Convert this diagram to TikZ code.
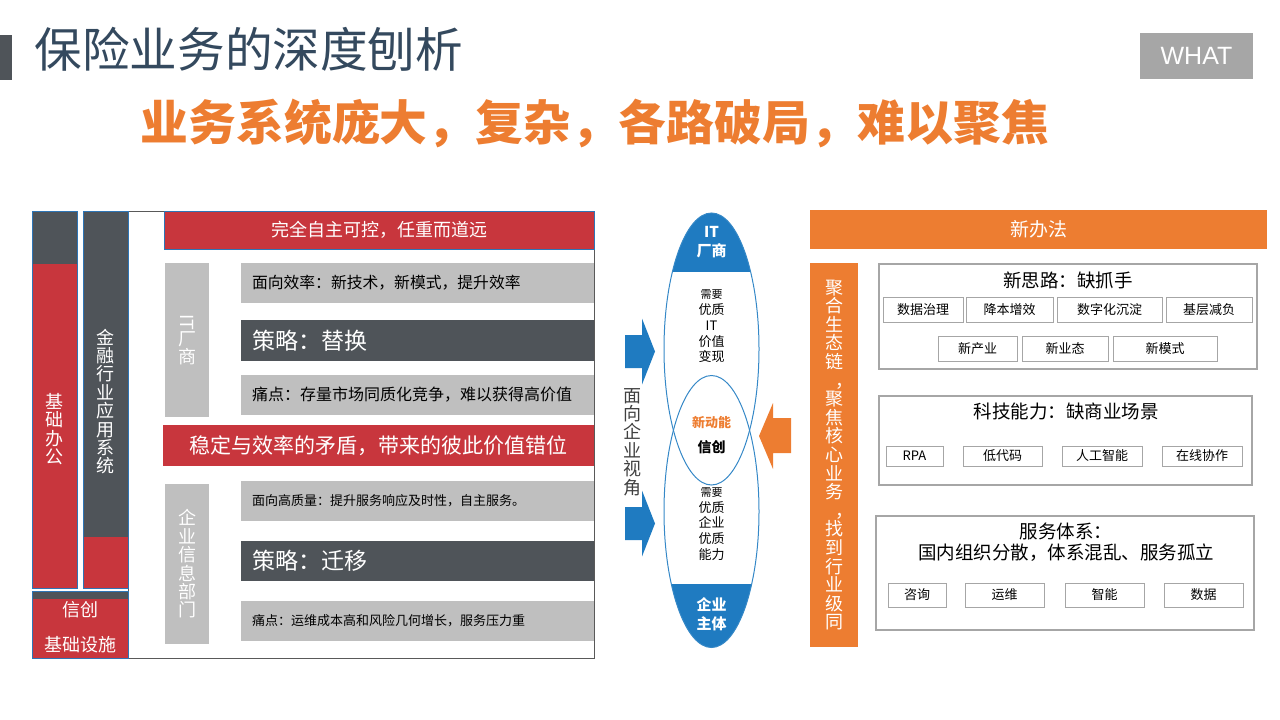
\documentclass[tikz,border=0pt]{standalone}
\usepackage{fontspec}
\setmainfont{Noto Sans CJK SC}
\newfontfamily\latinfont{Liberation Sans}
\usetikzlibrary{positioning}
\definecolor{slate}{HTML}{34495E}
\definecolor{ink}{HTML}{4F5459}
\definecolor{brick}{HTML}{C8363D}
\definecolor{silver}{HTML}{BFBFBF}
\definecolor{tangerine}{HTML}{ED7D31}
\definecolor{azure}{HTML}{1F7BC1}
\definecolor{edgeblue}{HTML}{2E75B6}
\definecolor{boxgray}{HTML}{A6A6A6}
\definecolor{framegray}{HTML}{595959}
\definecolor{textgray}{HTML}{404040}
\tikzset{
  panel/.style={anchor=north west,inner sep=0pt,outer sep=0pt},
  redbar/.style={panel,fill=brick,draw=edgeblue,line width=0.8pt,text=white},
  greybox/.style={panel,fill=silver,text=black,minimum width=353pt,
    text width=331pt,inner xsep=11pt,align=left,minimum height=40pt},
  inkbox/.style={greybox,fill=ink,text=white,font=\fontsize{23}{26}\selectfont},
  sidebox/.style={panel,fill=silver,text=white,minimum width=44pt,align=center,
    font=\fontsize{18}{18.4}\selectfont},
  vtext/.style={align=center,inner sep=0pt,text=white,font=\fontsize{18}{18.4}\selectfont},
  groupbox/.style={panel,draw=boxgray,line width=1.1pt},
  grouptitle/.style={align=center,inner sep=0pt,font=\fontsize{18.5}{21}\selectfont},
  tagbox/.style={draw=boxgray,line width=0.9pt,inner sep=0pt,font=\fontsize{13}{15}\selectfont},
  eltext/.style={align=center,inner sep=0pt,font=\fontsize{13}{15.7}\selectfont},
  captext/.style={align=center,inner sep=0pt,text=white,font=\bfseries\fontsize{15}{19.5}\selectfont}
}
\begin{document}
\begin{tikzpicture}[x=1pt,y=-1pt]
  \useasboundingbox (0,0) rectangle (1280,720);

  \fill[ink] (0,35) rectangle (12,80);
  \node[text=slate,inner sep=0pt,font=\fontsize{47.6}{50}\selectfont] (title) at (249,49)
    {保险业务的深度刨析};
  \node[fill=boxgray,minimum width=113pt,minimum height=46pt,inner sep=0pt,text=white,
    font=\latinfont\fontsize{25}{25}\selectfont] (what) at (1196.5,56) {WHAT};
  \node[text=tangerine,inner sep=0pt,font=\bfseries\fontsize{47.8}{50}\selectfont] (subtitle)
    at (595,123) {业务系统庞大，复杂，各路破局，难以聚焦};

  \draw[framegray,line width=0.8pt] (128,211) rectangle (594,658);
  \fill[ink] (32,211) rectangle (77,264);
  \fill[brick] (32,264) rectangle (77,588);
  \draw[edgeblue,line width=0.8pt] (32,211) rectangle (77,588);
  \fill[ink] (83,211) rectangle (128,537);
  \fill[brick] (83,537) rectangle (128,588);
  \draw[edgeblue,line width=0.8pt] (83,211) rectangle (128,588);
  \fill[ink] (32,591) rectangle (128,599);
  \fill[brick] (32,599) rectangle (128,658);
  \draw[edgeblue,line width=0.8pt] (32,591) rectangle (128,658);
  \node[vtext] (office) at (54.5,429) {基\\础\\办\\公};
  \node[vtext] (finance) at (105.5,401.5) {金\\融\\行\\业\\应\\用\\系\\统};
  \node[vtext,font=\fontsize{18}{35}\selectfont] (infra) at (80,627.5) {信创\\基础设施};

  \node[redbar,minimum width=430pt,minimum height=38pt,font=\fontsize{18}{20}\selectfont]
    (control) at (164,211) {完全自主可控，任重而道远};
  \node[sidebox,minimum height=154pt] (vendor) at (165,263) {\rotatebox{-90}{IT}\\厂\\商};
  \node[greybox,font=\fontsize{15.8}{18}\selectfont] (effic) at (241,263)
    {面向效率：新技术，新模式，提升效率};
  \node[inkbox,minimum height=41pt] (replace) at (241,320) {策略：替换};
  \node[greybox,font=\fontsize{16}{18}\selectfont] (pain1) at (241,375)
    {痛点：存量市场同质化竞争，难以获得高价值};
  \node[redbar,draw=none,minimum width=431pt,minimum height=41pt,font=\fontsize{21}{24}\selectfont]
    (conflict) at (163,425) {稳定与效率的矛盾，带来的彼此价值错位};
  \node[sidebox,minimum height=160pt] (itdept) at (165,484) {企\\业\\信\\息\\部\\门};
  \node[greybox,font=\fontsize{13}{15}\selectfont] (quality) at (241,481)
    {面向高质量：提升服务响应及时性，自主服务。};
  \node[inkbox] (migrate) at (241,541) {策略：迁移};
  \node[greybox,font=\fontsize{13}{15}\selectfont] (pain2) at (241,601)
    {痛点：运维成本高和风险几何增长，服务压力重};

  \coordinate (uc) at (711.5,349);
  \coordinate (lc) at (711.5,511.5);
  \begin{scope}
    \clip (uc) ellipse [x radius=47.5,y radius=136];
    \fill[azure] (660,210) rectangle (765,272);
  \end{scope}
  \begin{scope}
    \clip (lc) ellipse [x radius=47.5,y radius=136];
    \fill[azure] (660,584) rectangle (765,650);
  \end{scope}
  \draw[azure!90!white,line width=1pt] (uc) ellipse [x radius=47.5,y radius=136];
  \draw[azure!90!white,line width=1pt] (lc) ellipse [x radius=47.5,y radius=136];
  \foreach \y in {351.5,523.5}
    \fill[azure] (625,\y-16.5) -- ++(17,0) -- ++(0,-16.5) -- (655,\y)
      -- (642,\y+33) -- ++(0,-16.5) -- (625,\y+16.5) -- cycle;
  \fill[tangerine] (791,418) -- (773,418) -- (773,403) -- (759,436) -- (773,469)
    -- (773,453) -- (791,453) -- cycle;
  \node[vtext,text=textgray] (view) at (632.5,442) {面\\向\\企\\业\\视\\角};
  \node[captext] (itcap) at (711.5,242) {IT\\厂商};
  \node[eltext] (itneed) at (711.5,326.5)
    {{\fontsize{11}{15.7}\selectfont 需要}\\优质\\IT\\价值\\变现};
  \node[eltext,text=tangerine,font=\bfseries\fontsize{13}{15}\selectfont] (power) at (711.5,423) {新动能};
  \node[eltext,font=\bfseries\fontsize{14}{15}\selectfont] (xinchuang) at (711.5,447) {信创};
  \node[eltext] (entneed) at (711.5,524)
    {{\fontsize{11}{15.7}\selectfont 需要}\\优质\\企业\\优质\\能力};
  \node[captext] (entcap) at (711.5,614) {企业\\主体};

  \node[panel,fill=tangerine,text=white,minimum width=457pt,minimum height=39pt,
    font=\fontsize{19}{21}\selectfont] (method) at (810,210) {新办法};
  \node[panel,fill=tangerine,minimum width=48pt,minimum height=384pt] (eco) at (810,263) {};
  \node[vtext,font=\fontsize{18}{18.6}\selectfont] (ecotext) at (eco.center)
    {聚\\合\\生\\态\\链\\\hspace*{20pt}，\\聚\\焦\\核\\心\\业\\务\\\hspace*{20pt}，\\找\\到\\行\\业\\级\\同};

  \node[groupbox,minimum width=378pt,minimum height=105pt] (idea) at (879,264) {};
  \node[grouptitle] (ideatitle) at (1068,280) {新思路：缺抓手};
  \foreach \xa/\xb/\t [count=\i] in {883/963/数据治理,966/1053/降本增效,
      1057/1162/数字化沉淀,1166/1252/基层减负}
    \node[tagbox,minimum width={\xb-\xa},minimum height=25pt] (idea\i)
      at ({(\xa+\xb)/2},309.5) {\t};
  \foreach \xa/\xb/\t [count=\i] in {938/1017/新产业,1022/1108/新业态,1113/1217/新模式}
    \node[tagbox,minimum width={\xb-\xa},minimum height=25pt] (form\i)
      at ({(\xa+\xb)/2},348.5) {\t};

  \node[groupbox,minimum width=373pt,minimum height=89pt] (tech) at (879,396) {};
  \node[grouptitle] (techtitle) at (1066,411) {科技能力：缺商业场景};
  \foreach \xa/\xb/\t [count=\i] in {886/943/RPA,963/1042/低代码,1062/1142/人工智能,1162/1242/在线协作}
    \node[tagbox,minimum width={\xb-\xa},minimum height=20pt] (tech\i)
      at ({(\xa+\xb)/2},456) {\t};

  \node[groupbox,minimum width=378pt,minimum height=114pt] (service) at (876,516) {};
  \node[grouptitle] (servtitle) at (1066,542.5) {服务体系：\\国内组织分散，体系混乱、服务孤立};
  \foreach \xa/\xb/\t [count=\i] in {888/946/咨询,965/1044/运维,1065/1144/智能,1164/1243/数据}
    \node[tagbox,minimum width={\xb-\xa},minimum height=24pt] (serv\i)
      at ({(\xa+\xb)/2},595) {\t};
\end{tikzpicture}
\end{document}
